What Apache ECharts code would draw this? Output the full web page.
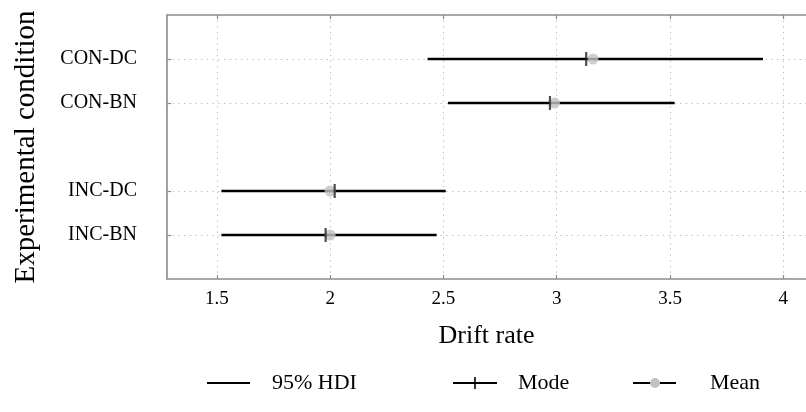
<!DOCTYPE html>
<html>
<head>
<meta charset="utf-8">
<script src="https://cdn.jsdelivr.net/npm/echarts@6/dist/echarts.min.js"></script>
<style>
  html, body { margin: 0; padding: 0; background: #fff; }
  #chart { width: 806px; height: 412px; }
</style>
</head>
<body>
<div id="chart"></div>
<script>
// Posterior summaries of the drift rate per experimental condition
const categories = ['CON-DC', 'CON-BN', 'INC-DC', 'INC-BN'];
const hdiLow  = [2.43, 2.52, 1.52, 1.52];
const hdiHigh = [3.91, 3.52, 2.51, 2.47];
const modes   = [3.13, 2.97, 2.02, 1.98];
const means   = [3.16, 2.99, 2.00, 2.00];
const xTicks  = [1.5, 2, 2.5, 3, 3.5, 4];
const legendNames = ['95% HDI', 'Mode', 'Mean'];

// Rows: two per group (CON, INC), with an empty row between the groups
function rowOf(i) {
  const group = Math.floor(i / 2);
  const within = i % 2;
  return 5 - within - group * 3;
}
const rows = categories.map((_, i) => rowOf(i));
const rowLabel = {};
rows.forEach((r, i) => { rowLabel[r] = categories[i]; });

const serif = '"Liberation Serif", "DejaVu Serif", serif';
const gridColor = '#b8b8b8';
const frameColor = '#8c8c8c';

const chart = echarts.init(document.getElementById('chart'), null, { renderer: 'canvas' });

const xBase = {
  type: 'value',
  min: 1.28,
  max: 4.1,
  axisLine: { show: true, onZero: false, lineStyle: { color: frameColor, width: 1.6 } },
  axisTick: { show: true, inside: true, length: 4, customValues: xTicks, lineStyle: { color: frameColor, width: 1.2 } }
};

const option = {
  animation: false,
  backgroundColor: '#fff',
  grid: { left: 167, right: 0, top: 15, bottom: 133, containLabel: false },
  xAxis: [
    Object.assign({}, xBase, {
      position: 'bottom',
      name: 'Drift rate',
      nameLocation: 'middle',
      nameGap: 44,
      nameTextStyle: { fontFamily: serif, fontSize: 26, color: '#000' },
      axisLabel: {
        customValues: xTicks,
        margin: 11,
        fontFamily: serif, fontSize: 19, color: '#000',
        formatter: v => String(v)
      },
      splitLine: { show: true, lineStyle: { color: gridColor, type: [1.3, 4.4], width: 1 } }
    }),
    Object.assign({}, xBase, {
      position: 'top',
      axisLabel: { show: false },
      splitLine: { show: false }
    })
  ],
  yAxis: {
    type: 'value',
    min: 0,
    max: 6,
    name: 'Experimental condition',
    nameLocation: 'middle',
    nameGap: 126,
    nameRotate: 90,
    nameTextStyle: { fontFamily: serif, fontSize: 29, color: '#000' },
    axisLine: { show: true, lineStyle: { color: frameColor, width: 1.6 } },
    axisTick: { show: true, inside: true, length: 4, customValues: rows, lineStyle: { color: frameColor, width: 1.2 } },
    axisLabel: {
      customValues: rows,
      margin: 30,
      fontFamily: serif, fontSize: 20, color: '#000',
      formatter: v => rowLabel[v] || ''
    },
    splitLine: { show: true, lineStyle: { color: gridColor, type: [1.3, 4.4], width: 1 } }
  },
  series: [
    {
      name: legendNames[0],
      type: 'custom',
      xAxisIndex: 0,
      z: 3,
      renderItem: function (params, api) {
        const a = api.coord([api.value(0), api.value(2)]);
        const b = api.coord([api.value(1), api.value(2)]);
        return {
          type: 'line',
          shape: { x1: a[0], y1: a[1], x2: b[0], y2: b[1] },
          style: { stroke: '#000', lineWidth: 2.6 }
        };
      },
      encode: { x: [0, 1], y: 2 },
      data: categories.map((_, i) => [hdiLow[i], hdiHigh[i], rows[i]])
    },
    {
      name: legendNames[2],
      type: 'scatter',
      xAxisIndex: 0,
      z: 4,
      symbol: 'circle',
      symbolSize: 11,
      itemStyle: { color: '#c2c2c2' },
      data: categories.map((_, i) => [means[i], rows[i]])
    },
    {
      name: legendNames[1],
      type: 'scatter',
      xAxisIndex: 0,
      z: 5,
      symbol: 'rect',
      symbolSize: [2.2, 14],
      itemStyle: { color: '#222' },
      data: categories.map((_, i) => [modes[i], rows[i]])
    }
  ],
  // Legend row drawn under the axis title
  graphic: [
    { type: 'line', shape: { x1: 207, y1: 383, x2: 250, y2: 383 }, style: { stroke: '#000', lineWidth: 2 } },
    { type: 'text', left: 272, top: 372, style: { text: legendNames[0], font: '22px ' + serif, fill: '#000' } },

    { type: 'line', shape: { x1: 453, y1: 383, x2: 497, y2: 383 }, style: { stroke: '#000', lineWidth: 2 } },
    { type: 'line', shape: { x1: 475, y1: 377, x2: 475, y2: 389 }, style: { stroke: '#000', lineWidth: 1.6 } },
    { type: 'text', left: 518, top: 372, style: { text: legendNames[1], font: '22px ' + serif, fill: '#000' } },

    { type: 'line', shape: { x1: 633, y1: 383, x2: 676, y2: 383 }, style: { stroke: '#000', lineWidth: 2 } },
    { type: 'circle', shape: { cx: 655, cy: 383, r: 5 }, style: { fill: '#c2c2c2' } },
    { type: 'text', left: 710, top: 372, style: { text: legendNames[2], font: '22px ' + serif, fill: '#000' } }
  ]
};

chart.setOption(option);
</script>
</body>
</html>
